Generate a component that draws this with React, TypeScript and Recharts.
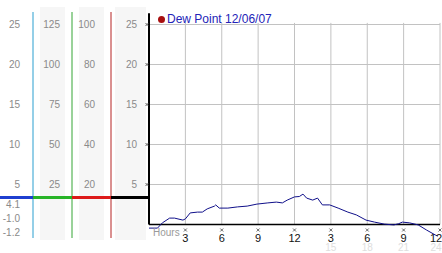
import { LineChart, Line, XAxis, YAxis, ReferenceLine, Legend } from 'recharts';

// hours since midnight and dew point (°C)
const hours = [0, 0.7, 1.1, 1.7, 2.1, 2.8, 3.0, 3.4, 4.0, 4.4, 4.8, 5.4, 5.5, 5.8, 6.5, 7.3, 8.1, 8.9, 9.8, 10.5, 11.0, 11.4, 12.0, 12.4, 12.7, 13.0, 13.5, 13.9, 14.3, 14.9, 15.6, 16.4, 17.1, 17.9, 18.6, 19.4, 20.2, 20.6, 20.9, 21.5, 22.2, 22.9, 23.6, 23.8];
const dewPoint = [-0.45, -0.45, 0.2, 0.8, 0.8, 0.55, 0.7, 1.45, 1.55, 1.55, 1.95, 2.3, 2.45, 2.05, 2.05, 2.2, 2.3, 2.55, 2.7, 2.8, 2.7, 3.05, 3.45, 3.5, 3.8, 3.3, 3.05, 3.3, 2.45, 2.45, 2.05, 1.55, 1.2, 0.55, 0.3, 0.05, -0.05, 0.1, 0.3, 0.2, -0.05, -0.7, -1.3, -1.45];

const hourTicks = [3, 6, 9, 12, 15, 18, 21, 24];
const hourLabels = ['3', '6', '9', '12', '3', '6', '9', '12'];
const hourLabels24 = ['', '', '', '', '15', '18', '21', '24'];

const celsiusTicks = [5, 10, 15, 20, 25];
const fahrenheitTicks = [25, 50, 75, 100, 125];
const pctTicks = [20, 40, 60, 80, 100];
const summaryLabels = ['4.1', '-1.0', '-1.2'];

const data = hours.map((h, i) => ({ hour: h, dew: dewPoint[i] }));

// 8px per degree, 0 sits at y=224.5, plot runs 12..238
const LO = -1.6875;
const HI = 26.5625;

const FONT = '"Liberation Sans", Arial, sans-serif';

function HourTick(props: any) {
  const { x, y, index } = props;
  const last = index === hourTicks.length - 1;
  const tx = last ? x - 4 : x;
  return (
    <g>
      <path d={`M${x - 1.5},${y - 9.5}l3,3M${x + 1.5},${y - 9.5}l-3,3`} stroke="#444" strokeWidth={0.8} />
      <text x={tx} y={y + 3.5} textAnchor="middle" fontSize={11} fill="#111" fontFamily={FONT}>
        {hourLabels[index]}
      </text>
      <text x={tx} y={y + 12.5} textAnchor="middle" fontSize={10} fill="#dedede" fontFamily={FONT}>
        {hourLabels24[index]}
      </text>
    </g>
  );
}

function MainYTick(props: any) {
  const { x, y, payload } = props;
  return (
    <g>
      <text x={x} y={y} dy={3.5} textAnchor="end" fontSize={10} fill="#8a8a8a" fontFamily={FONT}>
        {payload.value}
      </text>
      <path d={`M${x + 8.5},${y - 1.5}l3,3M${x + 11.5},${y - 1.5}l-3,3`} stroke="#444" strokeWidth={0.8} />
    </g>
  );
}

function LegendContent() {
  return (
    <div style={{ display: 'flex', alignItems: 'center', fontFamily: FONT, fontSize: '12px', color: '#2323b8', whiteSpace: 'nowrap', lineHeight: '13px' }}>
      <span style={{ width: 7, height: 7, borderRadius: 4, background: '#a80f0f', marginRight: 2, display: 'inline-block' }} />
      <span>Dew Point 12/06/07</span>
    </div>
  );
}

const tickStyle = { fontSize: 10, fill: '#8a8a8a', fontFamily: FONT };

export default function App() {
  return (
    <div style={{ position: 'absolute', left: 0, top: 0, width: 442, height: 253, background: '#fff', fontFamily: FONT }}>
      {/* shaded label columns */}
      <div style={{ position: 'absolute', left: 40, top: 7, width: 25, height: 233, background: '#f6f6f6' }} />
      <div style={{ position: 'absolute', left: 79, top: 7, width: 25, height: 233, background: '#f6f6f6' }} />
      <div style={{ position: 'absolute', left: 115, top: 7, width: 31, height: 233, background: '#f6f6f6' }} />

      <div style={{ position: 'absolute', left: 0, top: 0 }}>
        <LineChart width={442} height={253} data={data} margin={{ top: 12, right: 2, bottom: 0, left: 0 }}>
          <XAxis
            dataKey="hour"
            type="number"
            domain={[0, 24]}
            ticks={hourTicks}
            interval={0}
            axisLine={false}
            tickLine={false}
            tickSize={0}
            tickMargin={0}
            height={15}
            tick={<HourTick />}
          />
          {/* ids sort alphabetically: a_ is next to the plot, d_ is outermost */}
          <YAxis yAxisId="a_main" domain={[LO, HI]} ticks={celsiusTicks} interval={0} width={38} axisLine={false} tickLine={false} tickSize={0} tickMargin={12} tick={<MainYTick />} />
          <YAxis yAxisId="b_pct" domain={[LO * 4, HI * 4]} ticks={pctTicks} interval={0} width={39} axisLine={{ stroke: '#b52222' }} tickLine={false} tickSize={0} tickMargin={16} tick={tickStyle} />
          <YAxis yAxisId="c_f" domain={[LO * 5, HI * 5]} ticks={fahrenheitTicks} interval={0} width={39} axisLine={{ stroke: '#35a535' }} tickLine={false} tickSize={0} tickMargin={12} tick={tickStyle} />
          <YAxis yAxisId="d_c" domain={[LO, HI]} ticks={celsiusTicks} interval={0} width={33} axisLine={{ stroke: '#2b9fd0' }} tickLine={false} tickSize={0} tickMargin={13} tick={tickStyle} />

          {celsiusTicks.map(v => (
            <ReferenceLine key={`h${v}`} yAxisId="a_main" segment={[{ x: 0, y: v }, { x: 24, y: v }]} stroke="#c2c2c2" />
          ))}
          {hourTicks.map(v => (
            <ReferenceLine key={`v${v}`} yAxisId="a_main" segment={[{ x: v, y: 0 }, { x: v, y: 25.2 }]} stroke="#c2c2c2" />
          ))}
          <ReferenceLine yAxisId="a_main" y={0} stroke="#000" strokeWidth={1.5} />
          <ReferenceLine yAxisId="a_main" segment={[{ x: 0, y: 0 }, { x: 0, y: 26.4 }]} stroke="#000" strokeWidth={2} />

          {/* the side scales need a series bound to them to draw their ticks */}
          <Line yAxisId="b_pct" dataKey="dew" stroke="none" dot={false} legendType="none" isAnimationActive={false} />
          <Line yAxisId="c_f" dataKey="dew" stroke="none" dot={false} legendType="none" isAnimationActive={false} />
          <Line yAxisId="d_c" dataKey="dew" stroke="none" dot={false} legendType="none" isAnimationActive={false} />
          <Line yAxisId="a_main" dataKey="dew" type="linear" stroke="#10108a" strokeWidth={1} dot={false} isAnimationActive={false} />
          <Legend
            layout="horizontal"
            align="center"
            verticalAlign="middle"
            content={<LegendContent />}
            wrapperStyle={{ left: 158, top: 13, width: 'auto' }}
          />
        </LineChart>
      </div>

      {/* current value bar across the label columns */}
      <div style={{ position: 'absolute', left: 0, top: 196, width: 33, height: 3, background: '#1f3fd0' }} />
      <div style={{ position: 'absolute', left: 33, top: 196, width: 39, height: 3, background: '#28b428' }} />
      <div style={{ position: 'absolute', left: 72, top: 196, width: 39, height: 3, background: '#dd1a1a' }} />
      <div style={{ position: 'absolute', left: 111, top: 196, width: 38, height: 3, background: '#000' }} />

      {summaryLabels.map(s => (
        <div key={s} style={{ position: 'absolute', right: 422, top: 199 + summaryLabels.indexOf(s) * 14, fontSize: 10, color: '#8a8a8a', lineHeight: '12px' }}>
          {s}
        </div>
      ))}
      <div style={{ position: 'absolute', left: 153, top: 227, fontSize: 10, color: '#9a9a9a', lineHeight: '11px' }}>Hours</div>
    </div>
  );
}
